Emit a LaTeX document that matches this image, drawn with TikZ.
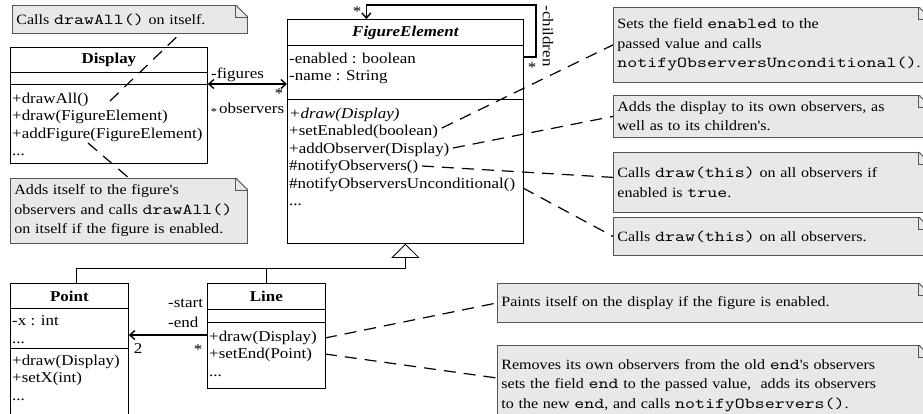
\documentclass[tikz,border=0pt]{standalone}
\usepackage{fontspec}
\setmainfont{Liberation Serif}[FakeStretch=1.13, Ligatures=TeXOff]
\setmonofont{lmmono10-regular.otf}[FakeStretch=1.25, Scale=1.07, Ligatures=TeXOff]
\usetikzlibrary{arrows.meta}

\definecolor{notefill}{RGB}{232,232,232}
\definecolor{noteline}{RGB}{85,85,85}
\newcommand{\classfont}{\fontsize{15}{17.5}\selectfont}
\newcommand{\notefont}{\fontsize{14.2}{19.5}\selectfont}
\newcommand{\notefold}[1]{%
  \fill[white] ([xshift=-12pt,yshift=1pt]#1.north east) -- ([xshift=1pt,yshift=1pt]#1.north east)
    -- ([xshift=1pt,yshift=-12pt]#1.north east) -- cycle;
  \draw[noteline, line width=0.8pt] ([xshift=-12pt]#1.north east) -- ([yshift=-12pt]#1.north east);
  \draw[noteline, line width=0.8pt] ([xshift=-12pt]#1.north east) |- ([yshift=-12pt]#1.north east);}

\tikzset{
  classbox/.style={draw, fill=white, line width=0.8pt, anchor=north west, inner sep=0pt},
  classname/.style={font=\classfont\bfseries, inner sep=0pt},
  member/.style={anchor=north west, align=left, inner sep=0pt, font=\classfont},
  rolelabel/.style={font=\classfont, inner sep=0pt},
  notebox/.style={draw=noteline, fill=notefill, line width=0.8pt, anchor=north west,
    align=left, inner xsep=4pt, inner ysep=2pt, font=\notefont},
  assoc/.style={line width=1.4pt},
  notelink/.style={dash pattern=on 12pt off 8pt, line width=1.2pt},
  barb/.tip={Straight Barb[length=5pt, width=9pt]}
}

\begin{document}
\begin{tikzpicture}[x=1pt, y=-1pt]
  \useasboundingbox (0,0) rectangle (923,413);

  \node[classbox, minimum width=197pt, minimum height=25pt] (disp-name) at (10,47) {};
  \node[classbox, minimum width=197pt, minimum height=12pt] (disp-attr) at (10,72) {};
  \node[classbox, minimum width=197pt, minimum height=79pt] (disp-ops) at (10,84) {};
  \node[classname] (disp-title) at (disp-name) {Display};
  \node[member] (disp-ops-t) at (12,92.5) {+drawAll()\\+draw(FigureElement)\\+addFigure(FigureElement)\\...};

  \node[classbox, minimum width=236pt, minimum height=26pt] (fe-name) at (287,19) {};
  \node[classbox, minimum width=236pt, minimum height=54pt] (fe-attr) at (287,45) {};
  \node[classbox, minimum width=236pt, minimum height=144pt] (fe-ops) at (287,99) {};
  \node[classname, font=\classfont\bfseries\itshape] (fe-title) at (fe-name) {FigureElement};
  \node[member] (fe-attr-t) at (289,52.5) {-enabled : boolean\\-name : String};
  \node[member] (fe-ops-t) at (289,107.5) {\textit{+draw(Display)}\\+setEnabled(boolean)\\+addObserver(Display)\\\#notifyObservers()\\\#notifyObserversUnconditional()\\...};

  \node[classbox, minimum width=118pt, minimum height=25pt] (pt-name) at (10,283) {};
  \node[classbox, minimum width=118pt, minimum height=40pt] (pt-attr) at (10,308) {};
  \node[classbox, minimum width=118pt, minimum height=80pt] (pt-ops) at (10,348) {};
  \node[classname] (pt-title) at (pt-name) {Point};
  \node[member] (pt-attr-t) at (12,315.5) {-x : int\\...};
  \node[member] (pt-ops-t) at (12,354.5) {+draw(Display)\\+setX(int)\\...};

  \node[classbox, minimum width=118pt, minimum height=26pt] (ln-name) at (207,283) {};
  \node[classbox, minimum width=118pt, minimum height=13pt] (ln-attr) at (207,309) {};
  \node[classbox, minimum width=118pt, minimum height=66pt] (ln-ops) at (207,322) {};
  \node[classname] (ln-title) at (ln-name) {Line};
  \node[member] (ln-ops-t) at (209,330.5) {+draw(Display)\\+setEnd(Point)\\...};

  \draw[assoc, barb-barb] (disp-ops.north east) -- (disp-ops.north east -| fe-attr.west);
  \node[rolelabel, anchor=west] (lbl-fig) at (211,75) {-figures};
  \node[rolelabel] (lbl-fig-m) at (279,94) {*};
  \node[rolelabel, anchor=west] (lbl-obs) at (219,108) {observers};
  \node[rolelabel, font=\fontsize{11}{11}\selectfont] (lbl-obs-m) at (214,112) {*};

  \draw[assoc, -barb] ([yshift=-12pt]fe-attr.north east) -- ++(12,0) -- ++(0,-52)
    -| ([xshift=-39pt]fe-name.north);
  \node[rolelabel] (lbl-ch-m1) at (357,12) {*};
  \node[rolelabel] (lbl-ch-m2) at (532,68) {*};
  \node[rolelabel, rotate=-90] (lbl-ch) at (548,36) {-children};

  \coordinate (gen) at ([yshift=-25pt]fe-ops.south);
  \draw[line width=0.8pt, -{Triangle[open, length=14pt, width=28pt]}] (gen) -- (fe-ops.south);
  \draw[line width=0.8pt] ([xshift=7pt]pt-name.north) |- (gen);
  \draw[line width=0.8pt] (ln-name.north) -- (ln-name.north |- gen);

  \coordinate (ln-end) at ([yshift=-13pt]ln-ops.north west);
  \draw[assoc, -barb] (ln-end) -- (ln-end -| pt-attr.east);
  \node[rolelabel, anchor=west] (lbl-start) at (168,303) {-start};
  \node[rolelabel, anchor=west] (lbl-end) at (168,322) {-end};
  \node[rolelabel] (lbl-end-m1) at (138,349) {2};
  \node[rolelabel] (lbl-end-m2) at (198,350) {*};

  \node[notebox, text width=227pt, minimum height=28pt] (note-drawall) at (12,5)
    {Calls \texttt{drawAll()} on itself.};
  \node[notebox, text width=229pt, minimum height=65pt] (note-addfig) at (10,178)
    {Adds itself to the figure's\\observers and calls \texttt{drawAll()}\\on itself if the figure is enabled.};
  \node[notebox, text width=309pt, minimum height=75pt] (note-enabled) at (613,7)
    {Sets the field \texttt{enabled} to the\\passed value and calls\\\texttt{notifyObserversUnconditional()}.};
  \node[notebox, text width=309pt, minimum height=42pt] (note-addobs) at (613,95)
    {Adds the display to its own observers, as\\well as to its children's.};
  \node[notebox, text width=309pt, minimum height=60pt] (note-notify) at (613,152)
    {Calls \texttt{draw(this)} on all observers if\\enabled is \texttt{true}.};
  \node[notebox, text width=309pt, minimum height=38pt] (note-uncond) at (613,217)
    {Calls \texttt{draw(this)} on all observers.};
  \node[notebox, text width=425pt, minimum height=39pt] (note-paint) at (497,283)
    {Paints itself on the display if the figure is enabled.};
  \node[notebox, text width=425pt, minimum height=80pt] (note-setend) at (497,345)
    {Removes its own observers from the old \texttt{end}'s observers\\sets the field \texttt{end} to the passed value,~ adds its observers\\to the new \texttt{end}, and calls \texttt{notifyObservers()}.};
  \notefold{note-drawall}
  \notefold{note-addfig}
  \notefold{note-enabled}
  \notefold{note-addobs}
  \notefold{note-notify}
  \notefold{note-uncond}
  \notefold{note-paint}
  \notefold{note-setend}

  \coordinate (c-drawall) at (110,101);
  \coordinate (c-addfig) at (88,143);
  \coordinate (c-setenabled) at (442,128);
  \coordinate (c-addobs) at (453,148);
  \coordinate (c-notify) at (422,166);
  \coordinate (c-uncond) at (523,188);
  \coordinate (c-draw) at (325,338);
  \coordinate (c-setend) at (325,354);
  \draw[notelink] (c-drawall) -- ([xshift=50pt]note-drawall.south);
  \draw[notelink] (c-addfig) -- (note-addfig.north);
  \draw[notelink] (c-setenabled) -- (note-enabled.west);
  \draw[notelink] (c-addobs) -- (note-addobs.west);
  \draw[notelink] (c-notify) -- ([yshift=5pt]note-notify.west);
  \draw[notelink] (c-uncond) -- (note-uncond.west);
  \draw[notelink] (c-draw) -- (note-paint.west);
  \draw[notelink] (c-setend) -- ([yshift=-33pt]note-setend.north west);
\end{tikzpicture}
\end{document}
